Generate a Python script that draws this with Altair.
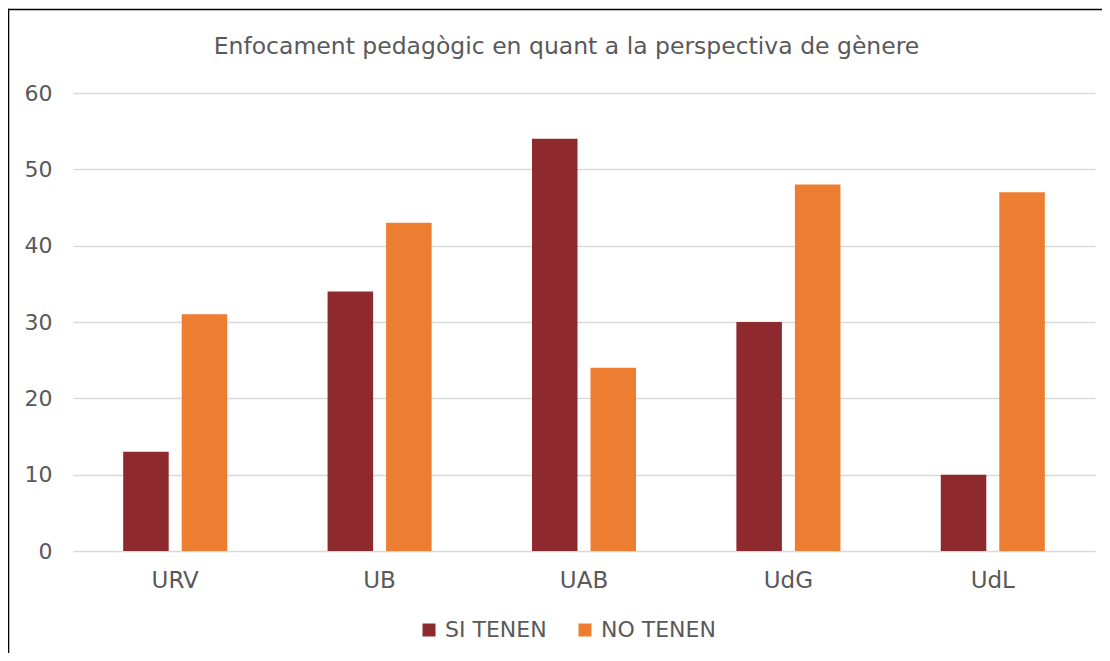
import altair as alt
import pandas as pd

title_text = "Enfocament pedagògic en quant a la perspectiva de gènere"
categories = ["URV", "UB", "UAB", "UdG", "UdL"]
series = ["SI TENEN", "NO TENEN"]
si_tenen = [13, 34, 54, 30, 10]
no_tenen = [31, 43, 24, 48, 47]
y_ticks = [0, 10, 20, 30, 40, 50, 60]
colors = ["#8E2A2E", "#ED7D31"]

rows = []
for c, a, b in zip(categories, si_tenen, no_tenen):
    rows.append({"uni": c, "serie": series[0], "val": a})
    rows.append({"uni": c, "serie": series[1], "val": b})
df = pd.DataFrame(rows)

FONT = "DejaVu Sans"
TXT = "#595959"

bars = alt.Chart(df).mark_bar().encode(
    x=alt.X("uni:N", sort=categories,
            scale=alt.Scale(paddingInner=0.491, paddingOuter=0.2455),
            axis=alt.Axis(title=None, labelAngle=0, domain=False, ticks=False,
                          labelFontSize=23, labelFont=FONT, labelColor=TXT,
                          labelPadding=18, grid=False)),
    xOffset=alt.XOffset("serie:N", sort=series,
                        scale=alt.Scale(paddingInner=0.222, paddingOuter=0)),
    y=alt.Y("val:Q", scale=alt.Scale(domain=[0, 60]),
            axis=alt.Axis(title=None, values=y_ticks, domain=False, ticks=False,
                          labelFontSize=22, labelFont=FONT, labelColor=TXT,
                          labelPadding=21, gridColor="#D9D9D9", gridWidth=1.3)),
    color=alt.Color("serie:N", sort=series,
                    scale=alt.Scale(domain=series, range=colors),
                    legend=alt.Legend(title=None, orient="none", legendX=345, legendY=526,
                                      direction="horizontal", symbolType="square",
                                      symbolSize=169, symbolStrokeWidth=0,
                                      labelFontSize=22, labelFont=FONT, labelColor=TXT,
                                      labelOffset=5, columnPadding=27, padding=0)),
)

frame = alt.Data(values=[{}])
top_line = alt.Chart(frame).mark_rule(stroke="#000000", strokeWidth=1.6).encode(
    x=alt.value(-65.3), x2=alt.value(1040), y=alt.value(-83.5)
)
left_line = alt.Chart(frame).mark_rule(stroke="#000000", strokeWidth=1.6).encode(
    x=alt.value(-64.5), y=alt.value(-84.3), y2=alt.value(600)
)

title = alt.Chart(alt.Data(values=[{"t": title_text}])).mark_text(
    align="center", baseline="alphabetic", fontSize=23.5, font=FONT, color=TXT
).encode(
    x=alt.value(493.5), y=alt.value(-39), text="t:N"
)

chart = alt.layer(top_line, left_line, bars, title).properties(
    width=1022, height=458,
    autosize=alt.AutoSizeParams(type="none"),
    padding={"left": 65, "top": 85, "right": 7, "bottom": 102},
).configure_view(stroke=None)

chart.save("out.html", embed_options={"renderer": "svg", "actions": False})
